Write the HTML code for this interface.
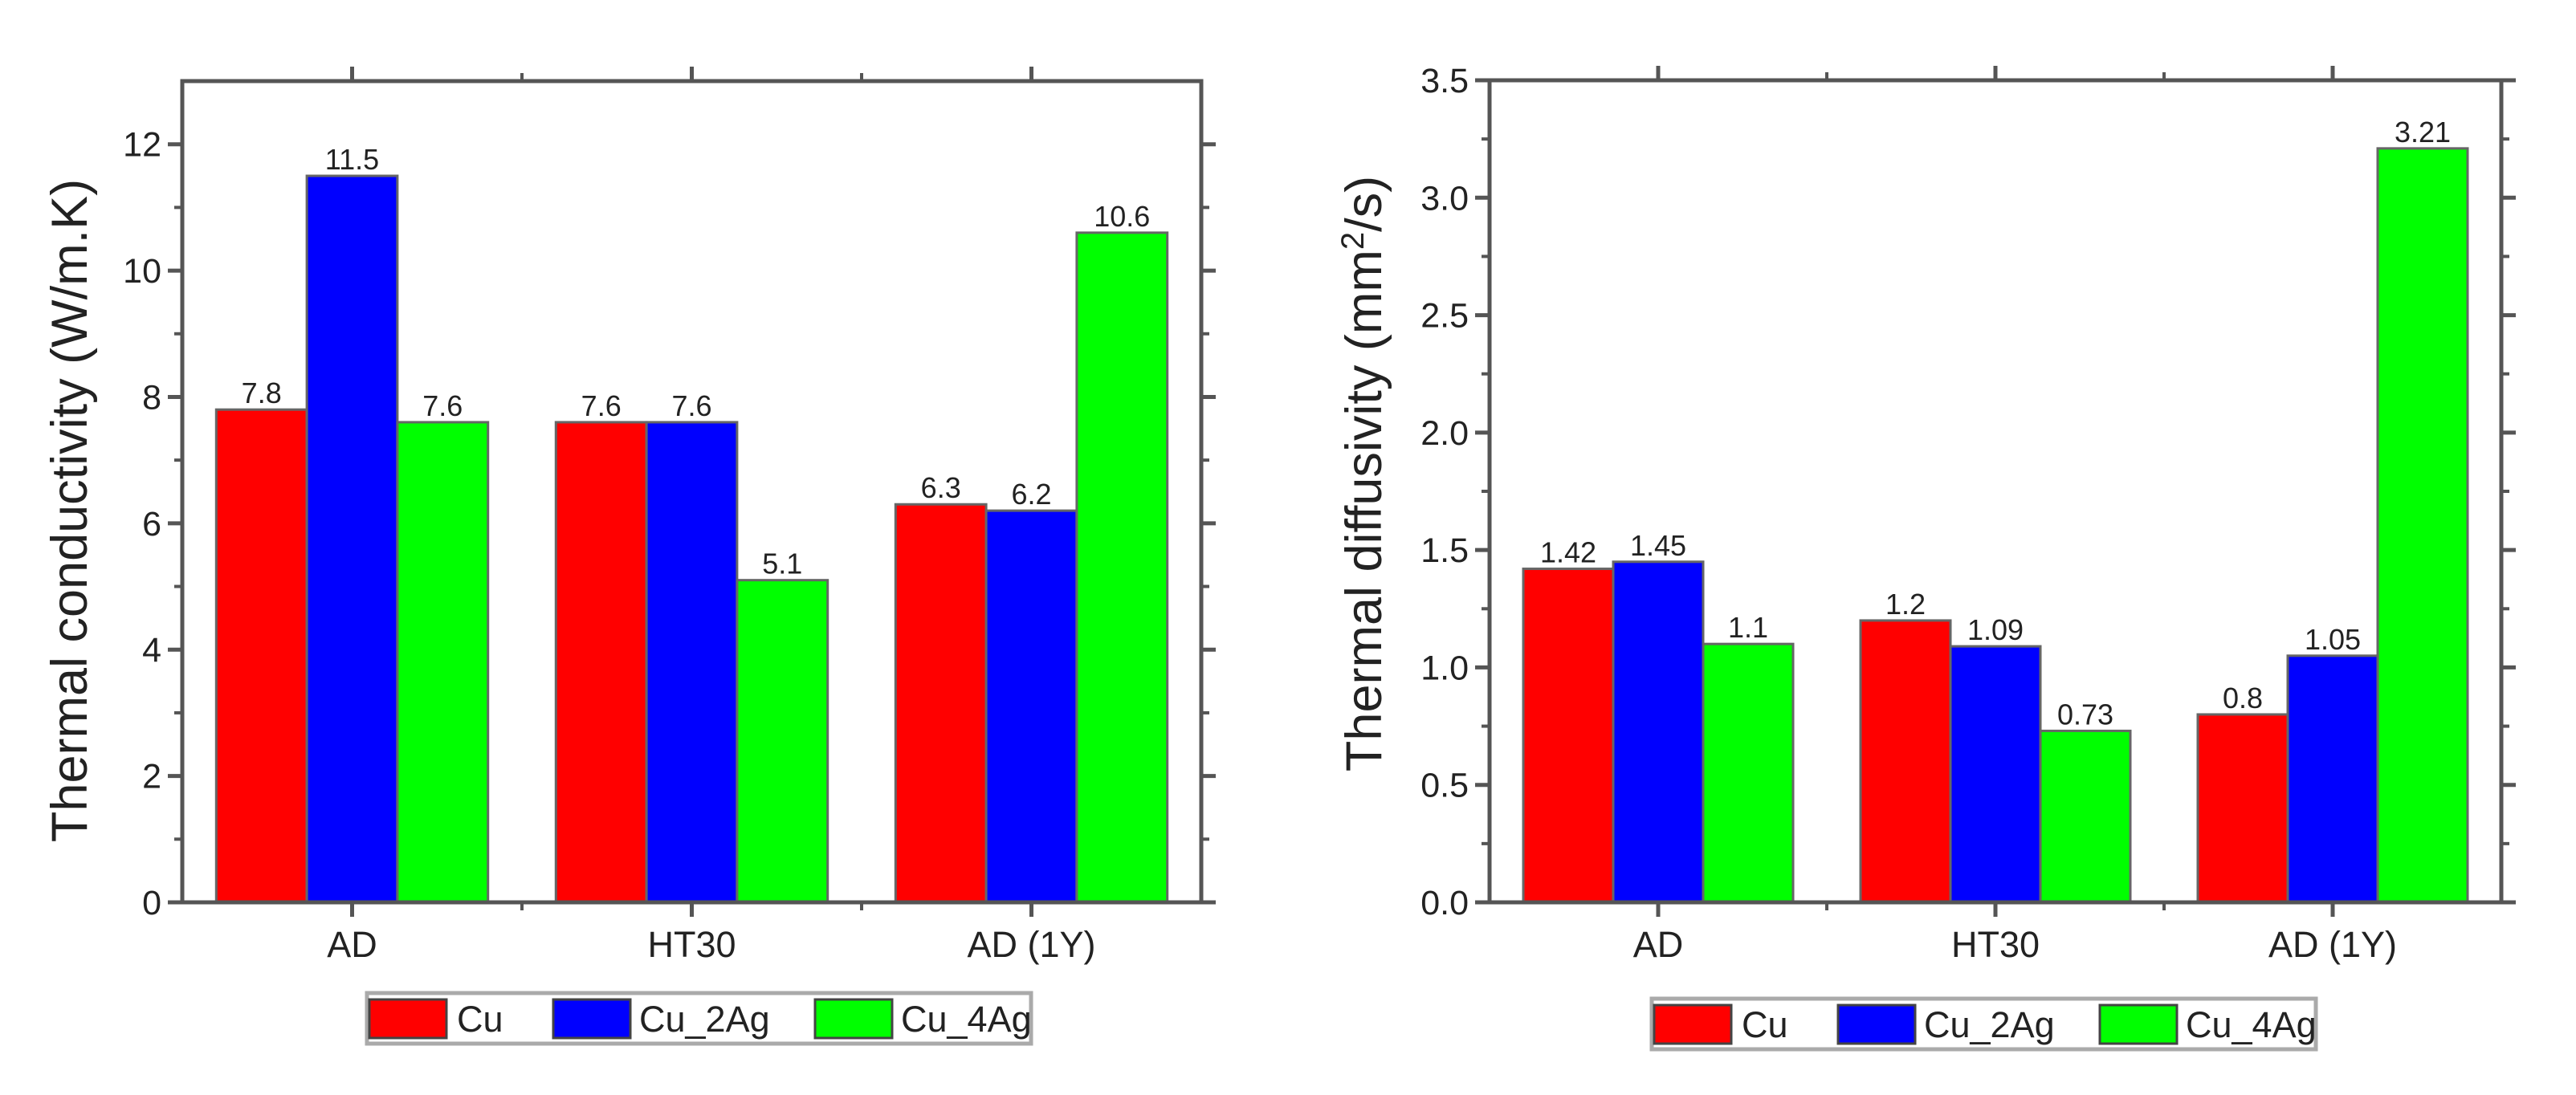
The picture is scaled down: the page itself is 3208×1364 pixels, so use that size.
<!DOCTYPE html>
<html><head><meta charset="utf-8"><style>
html,body{margin:0;padding:0;background:#fff;}
svg{display:block;font-family:"Liberation Sans",Arial,sans-serif;}
</style></head><body>
<svg id="chart" width="3208" height="1364" viewBox="0 0 3208 1364" xmlns="http://www.w3.org/2000/svg"></svg>
<script>
const categories = ["AD", "HT30", "AD (1Y)"];
const seriesNames = ["Cu", "Cu_2Ag", "Cu_4Ag"];
const conductivityCu = [7.8, 7.6, 6.3];
const conductivityCu2Ag = [11.5, 7.6, 6.2];
const conductivityCu4Ag = [7.6, 5.1, 10.6];
const conductivityLabels = [["7.8","7.6","6.3"],["11.5","7.6","6.2"],["7.6","5.1","10.6"]];
const conductivityTicks = [0, 2, 4, 6, 8, 10, 12];
const diffusivityCu = [1.42, 1.2, 0.8];
const diffusivityCu2Ag = [1.45, 1.09, 1.05];
const diffusivityCu4Ag = [1.1, 0.73, 3.21];
const diffusivityLabels = [["1.42","1.2","0.8"],["1.45","1.09","1.05"],["1.1","0.73","3.21"]];
const diffusivityTicks = ["0.0","0.5","1.0","1.5","2.0","2.5","3.0","3.5"];

const NS = "http://www.w3.org/2000/svg";
const svg = document.getElementById("chart");
const colors = ["#ff0000", "#0000ff", "#00ff00"];
function mk(tag, attrs, parent) {
  const e = document.createElementNS(NS, tag);
  for (const k in attrs) e.setAttribute(k, attrs[k]);
  (parent || svg).appendChild(e);
  return e;
}

function drawChart(opt) {
  const g = mk("g", {});
  
  
  const L = opt.left, R = opt.right, T = opt.top, B = opt.bottom;
  const yMax = opt.yMax;
  const y = v => B - (v / yMax) * (B - T);
  const unit = (R - L) / 3;
  const x = i => L + unit * (i + 0.5);
  const bw = unit * 0.8 / 3;
  const axc = "#555";
  opt.series.forEach((ser, s) => {
    ser.forEach((v, i) => {
      const bx = x(i) - 1.5 * bw + s * bw;
      const r = mk("rect", {x: bx, y: y(v), width: bw, height: B - y(v), fill: colors[s], stroke: "#666", "stroke-width": 3}, g);
      
      
      const t = mk("text", {x: bx + bw / 2, y: y(v) - 8, "font-size": 36, "text-anchor": "middle", fill: "#222"}, g);
      t.textContent = opt.labels[s][i];
      
      
    });
  });
  const f = mk("rect", {x: L, y: T, width: R - L, height: B - T, fill: "none", stroke: axc, "stroke-width": 5}, g);
  
  
  opt.ticks.forEach(tv => {
    const v = parseFloat(tv);
    const yy = y(v);
    mk("line", {x1: L - 18, x2: L, y1: yy, y2: yy, stroke: axc, "stroke-width": 5}, g);
    mk("line", {x1: R, x2: R + 18, y1: yy, y2: yy, stroke: axc, "stroke-width": 5}, g);
    const t = mk("text", {x: L - 26, y: yy + 15, "font-size": 43, "text-anchor": "end", fill: "#222"}, g);
    t.textContent = tv;
    
    
  });
  for (let v = opt.minor; v < yMax; v += opt.minor * 2) {
    const yy = y(v);
    mk("line", {x1: L - 10, x2: L, y1: yy, y2: yy, stroke: axc, "stroke-width": 4}, g);
    mk("line", {x1: R, x2: R + 10, y1: yy, y2: yy, stroke: axc, "stroke-width": 4}, g);
  }
  categories.forEach((c, i) => {
    const xx = x(i);
    mk("line", {x1: xx, x2: xx, y1: B, y2: B + 18, stroke: axc, "stroke-width": 5}, g);
    mk("line", {x1: xx, x2: xx, y1: T - 18, y2: T, stroke: axc, "stroke-width": 5}, g);
    const t = mk("text", {x: xx, y: B + 68, "font-size": 45, "text-anchor": "middle", fill: "#222"}, g);
    t.textContent = c;
    
    
    if (i < 2) {
      const mx = L + unit * (i + 1);
      mk("line", {x1: mx, x2: mx, y1: B, y2: B + 10, stroke: axc, "stroke-width": 4}, g);
      mk("line", {x1: mx, x2: mx, y1: T - 10, y2: T, stroke: axc, "stroke-width": 4}, g);
    }
  });
  const yt = mk("text", {x: 0, y: 0, "font-size": 63, "text-anchor": "middle", fill: "#222",
    transform: "translate(" + opt.titleX + "," + opt.titleY + ") rotate(-90)"}, g);
  
  
  yt.innerHTML = opt.title;
  const lg = mk("g", {}, g);
  
  
  const lx = opt.legendX, ly = opt.legendY;
  mk("rect", {x: lx, y: ly, width: 827, height: 63, fill: "#fff", stroke: "#aaa", "stroke-width": 5}, lg);
  const sw = [3, 232, 558], tx = [112, 339, 665];
  seriesNames.forEach((n, s) => {
    const e = mk("g", {}, lg);
    
    
    mk("rect", {x: lx + sw[s], y: ly + 8, width: 96, height: 48, fill: colors[s], stroke: "#444", "stroke-width": 3}, e);
    const t = mk("text", {x: lx + tx[s], y: ly + 48, "font-size": 45, fill: "#222"}, e);
    t.textContent = n;
  });
}

drawChart({name: "thermal-conductivity-chart", left: 227, right: 1496, top: 101, bottom: 1124, yMax: 13,
  series: [conductivityCu, conductivityCu2Ag, conductivityCu4Ag], labels: conductivityLabels,
  ticks: conductivityTicks.map(String), minor: 1, titleX: 108, titleY: 636,
  title: "Thermal conductivity (W/m.K)", legendX: 457, legendY: 1237});
drawChart({name: "thermal-diffusivity-chart", left: 1855, right: 3115, top: 100, bottom: 1124, yMax: 3.5,
  series: [diffusivityCu, diffusivityCu2Ag, diffusivityCu4Ag], labels: diffusivityLabels,
  ticks: diffusivityTicks, minor: 0.25, titleX: 1720, titleY: 590,
  title: 'Thermal diffusivity (mm<tspan baseline-shift="super" font-size="40">2</tspan>/s)', legendX: 2057, legendY: 1244});
</script>
</body></html>
